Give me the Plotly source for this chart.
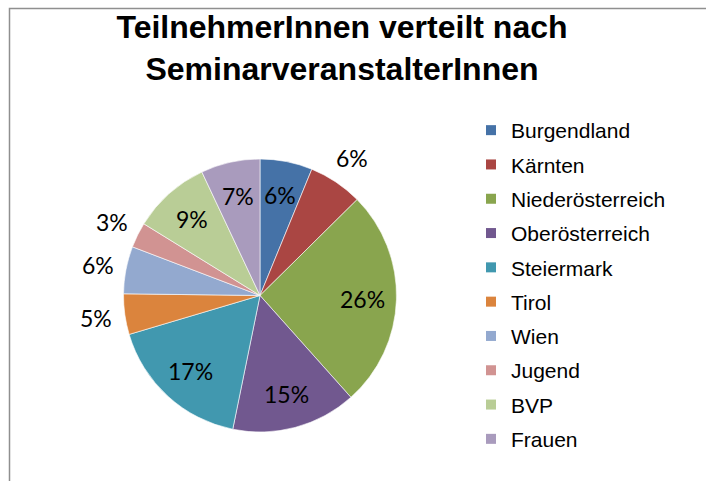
import math
import plotly.graph_objects as go

# ---- data ----
categories = ["Burgendland", "Kärnten", "Niederösterreich", "Oberösterreich",
              "Steiermark", "Tirol", "Wien", "Jugend", "BVP", "Frauen"]
values = [6.2, 6.4, 25.8, 14.8, 17.2, 4.8, 5.6, 3.0, 9.2, 7.0]
colors = ["#4572A7", "#AA4643", "#89A54E", "#71588F", "#4198AF",
          "#DB843D", "#93A9CF", "#D19392", "#B9CD96", "#A99BBD"]
label_outside = [False, True, False, False, False, True, True, True, False, False]
title_text = "TeilnehmerInnen verteilt nach<br>SeminarveranstalterInnen"

# ---- layout constants ----
W, H = 706, 481
cx_px, cy_px, R_px = 260.0, 295.5, 136.5   # pie centre / radius in pixels (from top-left)

dom_x = [(cx_px - R_px) / W, (cx_px + R_px) / W]
dom_y = [(H - cy_px - R_px) / H, (H - cy_px + R_px) / H]

fig = go.Figure()
fig.add_trace(go.Pie(
    labels=categories, values=values, sort=False, direction="clockwise",
    rotation=0, marker=dict(colors=colors, line=dict(color="#ffffff", width=0.6)),
    textinfo="none", hoverinfo="label+percent", showlegend=False,
    domain=dict(x=dom_x, y=dom_y),
))

# legend entries (one per category, own group so spacing can be tuned)
for name, col in zip(categories, colors):
    fig.add_trace(go.Scatter(
        x=[None], y=[None], mode="markers", name=name, legendgroup=name,
        marker=dict(symbol="square", size=10, color=col, line=dict(width=0)),
        hoverinfo="skip",
    ))

# percentage labels placed from the data via cumulative angles
total = sum(values)
annotations = []
cum = 0.0
for v, outside in zip(values, label_outside):
    mid = (cum + v / 2) / total
    cum += v
    theta = 2 * math.pi * mid
    r = R_px * (1.21 if outside else 0.75)
    px = cx_px + r * math.sin(theta)
    py = cy_px - r * math.cos(theta)
    annotations.append(dict(
        x=px / W, y=1 - py / H, xref="paper", yref="paper",
        text=f"{round(v / total * 100)}%", showarrow=False,
        xanchor="center", yanchor="middle",
        font=dict(family="Lato, Open Sans, sans-serif", size=23, color="#000000"),
    ))

fig.update_layout(
    width=W, height=H,
    margin=dict(l=0, r=0, t=0, b=0),
    paper_bgcolor="#ffffff", plot_bgcolor="#ffffff",
    xaxis=dict(visible=False), yaxis=dict(visible=False),
    title=dict(text=title_text, x=342 / W, xanchor="center", xref="container",
               y=1 - 38 / H, yanchor="top", yref="container",
               font=dict(family="Liberation Sans, Arial, sans-serif", size=32,
                         color="#000000", weight="bold")),
    legend=dict(x=471 / W, xanchor="left", y=1 - 110 / H, yanchor="top",
                font=dict(family="Liberation Sans, Arial, sans-serif", size=21,
                          color="#000000"),
                tracegroupgap=4, bgcolor="rgba(0,0,0,0)"),
    annotations=annotations,
    shapes=[dict(type="rect", xref="paper", yref="paper",
                 x0=9.5 / W, x1=1.05, y0=-0.2, y1=1 - 8.5 / H,
                 line=dict(color="#8f8f8f", width=1.5), layer="below")],
)

fig.write_html("out.html", config={"displayModeBar": False},
               post_script="document.body.style.margin='0px';document.body.style.overflow='hidden';")
